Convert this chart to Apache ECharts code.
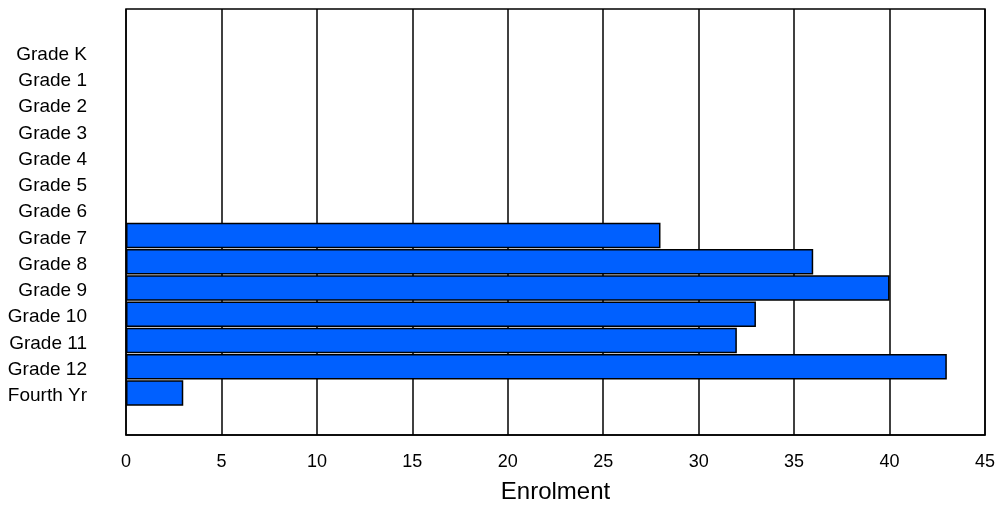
<!DOCTYPE html>
<html><head><meta charset="utf-8">
<script src="https://cdn.jsdelivr.net/npm/echarts@6/dist/echarts.min.js"></script>
<style>html,body{margin:0;padding:0;background:#fff}#c{width:998px;height:508px}</style>
</head><body><div id="c"></div>
<script>
const categories = ['Grade K', 'Grade 1', 'Grade 2', 'Grade 3', 'Grade 4', 'Grade 5', 'Grade 6', 'Grade 7', 'Grade 8', 'Grade 9', 'Grade 10', 'Grade 11', 'Grade 12', 'Fourth Yr'];
const enrolment = [null, null, null, null, null, null, null, 28, 36, 40, 33, 32, 43, 3];
const xTicks = [0, 5, 10, 15, 20, 25, 30, 35, 40, 45];
const xName = 'Enrolment';

const chart = echarts.init(document.getElementById('c'));
const xMin = xTicks[0], xMax = xTicks[xTicks.length - 1];
chart.setOption({
  animation: false,
  grid: [
    {left: 126, right: 13, top: 9, bottom: 73, containLabel: false, outerBoundsMode: 'none', show: true, borderColor: '#000', borderWidth: 1.5, backgroundColor: '#fff'},
    {left: 126, right: 13, top: 38.6, bottom: 101.9, containLabel: false, outerBoundsMode: 'none'}
  ],
  xAxis: [{
    gridIndex: 0, type: 'value', min: xMin, max: xMax, interval: 5,
    name: xName, nameLocation: 'middle', nameGap: 45,
    nameTextStyle: {fontFamily: 'Liberation Sans', fontSize: 24, color: '#000'},
    axisLine: {show: true, lineStyle: {color: '#000', width: 1.5}},
    axisTick: {show: false},
    axisLabel: {fontFamily: 'Liberation Sans', fontSize: 18, color: '#000', margin: 18},
    splitLine: {show: true, lineStyle: {color: '#000', width: 1.5}}
  }, {
    gridIndex: 1, type: 'value', min: xMin, max: xMax, show: false
  }],
  yAxis: [{
    gridIndex: 0, type: 'value', show: false
  }, {
    gridIndex: 1, type: 'category', data: categories, inverse: true,
    axisLine: {show: false}, axisTick: {show: false},
    axisLabel: {fontFamily: 'Liberation Sans', fontSize: 19, color: '#000', margin: 39, align: 'right', verticalAlign: 'top', lineHeight: 6},
    splitLine: {show: false}
  }],
  series: [{
    type: 'bar', xAxisIndex: 1, yAxisIndex: 1, data: enrolment, barCategoryGap: '3%',
    itemStyle: {color: '#0060ff', borderColor: '#000', borderWidth: 1.5}
  }]
});
</script></body></html>
